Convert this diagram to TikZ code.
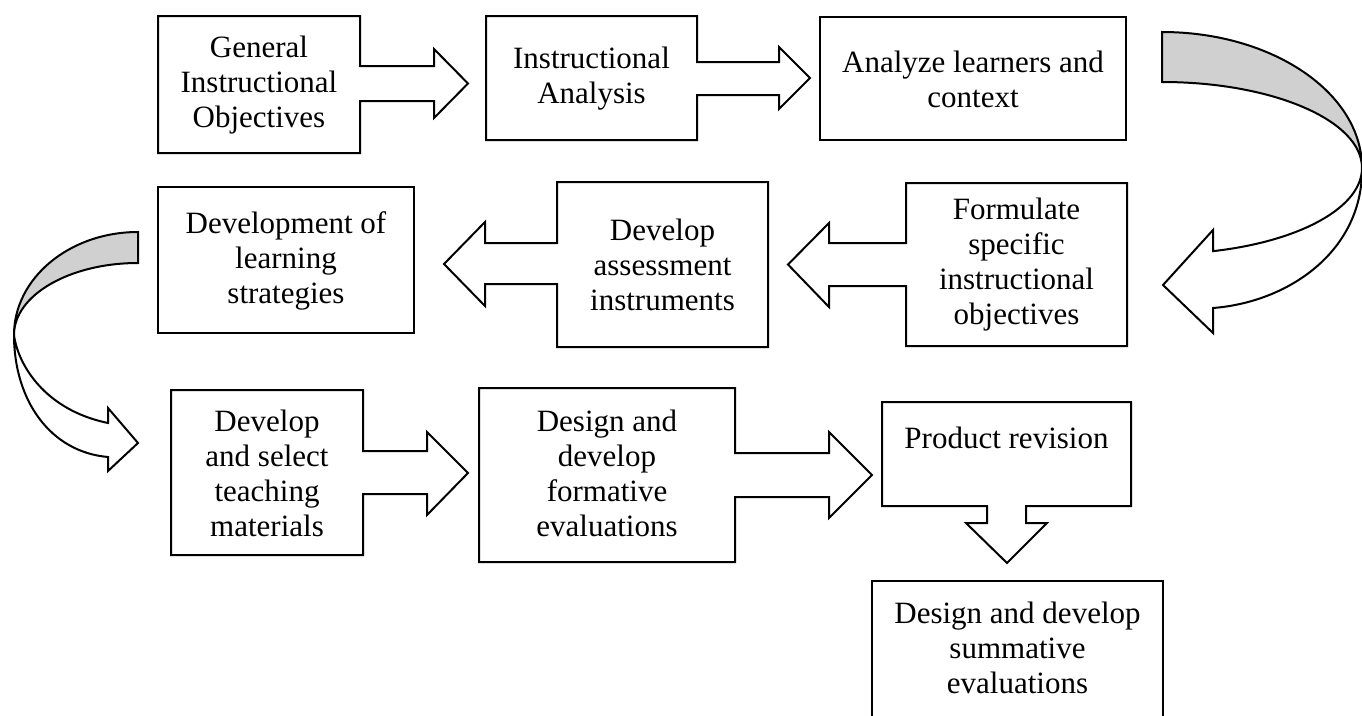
\documentclass[tikz,border=0pt]{standalone}
\usepackage{fontspec}
\setmainfont{Liberation Serif}
\definecolor{bandgray}{RGB}{208,208,208}
\begin{document}
\begin{tikzpicture}[x=1pt,y=-1pt,
  box/.style={draw=black, line width=2pt, fill=white, line join=miter},
  band/.style={draw=black, line width=2pt, fill=bandgray, line join=miter},
  front/.style={draw=black, line width=2pt, fill=white, line join=miter},
  label/.style={font=\fontsize{31}{35}\selectfont, align=center, inner sep=0pt, text=black}]
\useasboundingbox (0,0) rectangle (1362,715);
\fill[white] (0,0) rectangle (1362,715);
\begin{scope}
\clip (0,0) rectangle (1362,715);
% Row 1
\draw[box] (158,16) -- (360,16) -- (360,66) -- (434,66) -- (434,49) -- (468,83.5)
  -- (434,118) -- (434,101) -- (360,101) -- (360,153) -- (158,153) -- cycle;
\draw[box] (486,16) -- (697,16) -- (697,62) -- (779,62) -- (779,47) -- (810,78)
  -- (779,109) -- (779,95) -- (697,95) -- (697,140) -- (486,140) -- cycle;
\draw[box] (820,17) rectangle (1126,140);
% right curved arrow
\draw[band] (1162,32) arc[start angle=-90, end angle=0, x radius=200, y radius=136]
  arc[start angle=0, end angle=-90, x radius=200, y radius=86] -- cycle;
\draw[front] (1362,168) arc[start angle=0, end angle=75.2, x radius=200, y radius=86]
  -- (1213,230) -- (1163,285) -- (1213,333) -- (1213,308)
  .. controls (1290,302) and (1363,250) .. (1362,168) -- cycle;
% Row 2
\draw[box] (158,187) rectangle (414,333);
\draw[box] (557,182) -- (768,182) -- (768,347) -- (557,347) -- (557,284) -- (485,284)
  -- (485,306) -- (444,264) -- (485,222) -- (485,243) -- (557,243) -- cycle;
\draw[box] (906,183) -- (1127,183) -- (1127,346) -- (906,346) -- (906,286) -- (829,286)
  -- (829,307) -- (788,264.5) -- (829,223) -- (829,243) -- (906,243) -- cycle;
% left curved arrow
\draw[band] (138,232) arc[start angle=270, end angle=180, x radius=124, y radius=103]
  arc[start angle=180, end angle=270, x radius=124, y radius=72] -- cycle;
\draw[front] (14,335) .. controls (18,365) and (45,410) .. (108,423)
  -- (108,408) -- (138,443) -- (108,471) -- (108,457)
  .. controls (50,452) and (14,400) .. (14,335) -- cycle;
% Row 3
\draw[box] (171,390) -- (363,390) -- (363,451) -- (427,451) -- (427,432) -- (468,473)
  -- (427,515) -- (427,494) -- (363,494) -- (363,555) -- (171,555) -- cycle;
\draw[box] (479,388) -- (735,388) -- (735,453) -- (829,453) -- (829,432) -- (872,475)
  -- (829,518) -- (829,497) -- (735,497) -- (735,562) -- (479,562) -- cycle;
\draw[box] (882,402) -- (1131,402) -- (1131,506) -- (1026,506) -- (1026,523) -- (1047,523)
  -- (1007,563) -- (966,523) -- (987,523) -- (987,506) -- (882,506) -- cycle;
\draw[box] (872,581) rectangle (1163,740);
\end{scope}
% Labels
\node[label] (gio) at (259,85) {General\\Instructional\\Objectives};
\node[label] (ia) at (591.5,79) {Instructional\\Analysis};
\node[label] (alc) at (973,79) {Analyze learners and\\context};
\node[label] (dls) at (286,261) {Development of\\learning\\strategies};
\node[label] (dai) at (662.5,265) {Develop\\assessment\\instruments};
\node[label] (fsio) at (1016.5,265) {Formulate\\specific\\instructional\\objectives};
\node[label] (dstm) at (267,473) {Develop\\and select\\teaching\\materials};
\node[label] (ddfe) at (607,473) {Design and\\develop\\formative\\evaluations};
\node[label, anchor=base] (pr) at (1006.5,448) {Product revision};
\node[label] (ddse) at (1017.5,648) {Design and develop\\summative\\evaluations};
\end{tikzpicture}
\end{document}
